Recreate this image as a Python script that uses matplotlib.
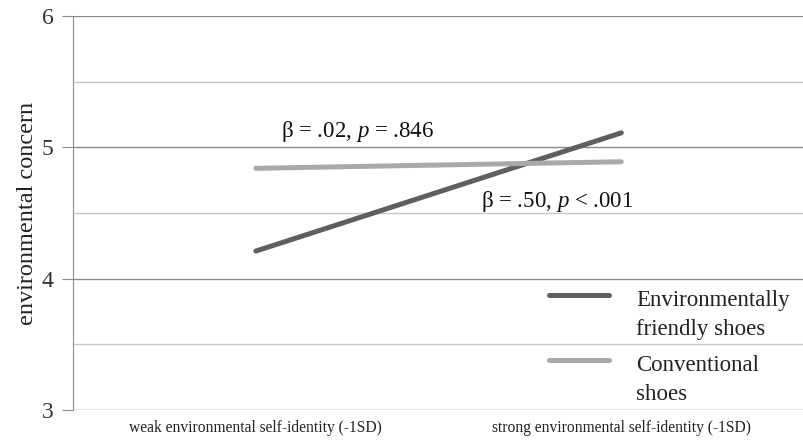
import numpy as np
import matplotlib.pyplot as plt
from matplotlib.legend_handler import HandlerLine2D

plt.rcParams['font.family'] = ['Liberation Serif', 'DejaVu Serif']
plt.rcParams['mathtext.fontset'] = 'custom'
plt.rcParams['mathtext.it'] = 'Liberation Serif:italic'
plt.rcParams['mathtext.rm'] = 'Liberation Serif'

categories = ["weak environmental self-identity (-1SD)",
              "strong environmental self-identity (-1SD)"]
env_friendly = [4.21, 5.11]
conventional = [4.84, 4.89]
series_names = ["Environmentally\nfriendly shoes", "Conventional\nshoes"]


class FirstLineHandler(HandlerLine2D):
    # put the legend swatch level with the first text line, like Excel does
    def create_artists(self, legend, orig_handle, xdescent, ydescent, width, height, fontsize, trans):
        arts = super().create_artists(legend, orig_handle, xdescent, ydescent, width, height, fontsize, trans)
        for a in arts:
            a.set_ydata(np.asarray(a.get_ydata()) + 0.85 * fontsize)
        return arts


fig = plt.figure(figsize=(8.04, 4.43), dpi=100)
ax = fig.add_axes([0.091, 0.0745, 0.909, 0.8895])

x = np.arange(len(categories))
ax.plot(x, env_friendly, color="#5f5f5f", lw=3.6, solid_capstyle="round", label=series_names[0])
ax.plot(x, conventional, color="#a9a9a9", lw=3.6, solid_capstyle="round", label=series_names[1])

ax.set_xlim(-0.5, 1.5)
ax.set_ylim(3, 6)
ax.set_yticks([3, 4, 5, 6])
ax.set_yticks([3.5, 4.5, 5.5], minor=True)
ax.grid(axis="y", which="major", color="#8c8c8c", lw=1)
ax.grid(axis="y", which="minor", color="#c8c8c8", lw=1)
ax.set_axisbelow(True)
ax.tick_params(axis="y", which="major", length=8, color="#8c8c8c", labelsize=17, labelcolor="#333333", pad=6)
ax.tick_params(axis="y", which="minor", length=0)
ax.set_xticks(x)
ax.set_xticklabels(categories, fontsize=11.2, color="#222222")
ax.tick_params(axis="x", length=0, pad=7)

for s in ["top", "right", "bottom"]:
    ax.spines[s].set_visible(False)
ax.spines["left"].set_color("#8c8c8c")

ax.set_ylabel("environmental concern", fontsize=17.5, color="#222222", labelpad=3)

ax.text(0.068, 5.12, r"β = .02, $\mathit{p}$ = .846", fontsize=16.5, va="center", color="#111111")
ax.text(0.616, 4.59, r"β = .50, $\mathit{p}$ < .001", fontsize=16.5, va="center", color="#111111")

leg = ax.legend(loc="upper left", bbox_to_anchor=(0.623, 0.357), frameon=False, fontsize=16.5,
                handlelength=2.6, handletextpad=1.2, labelspacing=0.65, labelcolor="#222222",
                handler_map={plt.Line2D: FirstLineHandler()})
for t in leg.get_texts():
    t.set_linespacing(1.5)

fig.savefig("out.png", dpi=100)
